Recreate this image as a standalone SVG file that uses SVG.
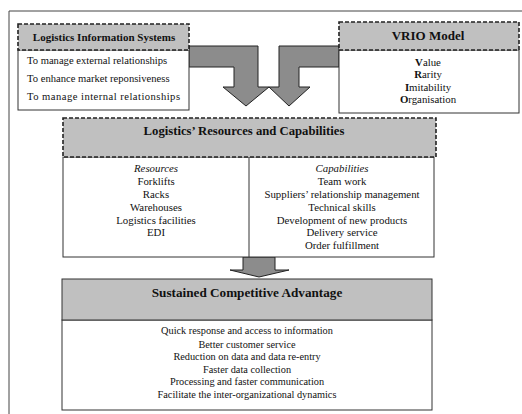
<svg xmlns="http://www.w3.org/2000/svg" width="522" height="414" viewBox="0 0 522 414">
<style>
text{font-family:"Liberation Serif","Times New Roman",serif;fill:#111;}
.h{font-weight:bold;font-size:12.5px;text-anchor:middle;}
.t{font-size:10.8px;}
.s{font-size:10.3px;}
.c{text-anchor:middle;}
.hd{fill:#c0c0c0;stroke:#222;stroke-width:1.6;stroke-dasharray:4 2;}
.hs{fill:#c0c0c0;stroke:#333;stroke-width:1;}
.bd{fill:#fff;stroke:#333;stroke-width:1;}
.ar{fill:#8c8c8c;stroke:#222;stroke-width:1;}
</style>
<rect width="522" height="414" fill="#fff"/>
<path d="M9,414 V11 H522" fill="none" stroke="#444" stroke-width="1"/>
<g id="connectors">
<path class="ar" d="M189,46 H258 V87 H269 L246,106 L223,87 H234 V67 H189 Z"/>
<path class="ar" d="M339,46 H279 V87 H269 L289,106 L310,87 H299 V67 H339 Z"/>
<path class="ar" d="M243,257 H275 V270 H289 L259,277 L230,270 H243 Z"/>
</g>
<g id="lis">
<rect class="bd" x="18" y="50" width="171" height="60"/>
<rect class="hd" x="18" y="24" width="171" height="26"/>
<text class="h" x="104" y="41" style="font-size:11px">Logistics Information Systems</text>
<text class="t" x="27" y="64" style="font-size:10.6px">To manage external relationships</text>
<text class="t" x="27" y="82" style="font-size:10.6px">To enhance market reponsiveness</text>
<text class="t" x="27" y="100" style="font-size:10.6px" textLength="153" lengthAdjust="spacing">To manage internal relationships</text>
</g>
<g id="vrio">
<rect class="bd" x="339" y="50" width="180" height="63"/>
<rect class="hd" x="339" y="22" width="180" height="28"/>
<text class="h" x="428" y="40" style="font-size:13px">VRIO Model</text>
<text class="t c" x="428" y="66"><tspan font-weight="bold">V</tspan>alue</text>
<text class="t c" x="428" y="78"><tspan font-weight="bold">R</tspan>arity</text>
<text class="t c" x="428" y="91"><tspan font-weight="bold">I</tspan>mitability</text>
<text class="t c" x="428" y="103"><tspan font-weight="bold">O</tspan>rganisation</text>
</g>
<g id="lrc">
<rect class="bd" x="63" y="157" width="371" height="100"/>
<line x1="249" y1="157" x2="249" y2="257" stroke="#333" stroke-width="1"/>
<rect class="hd" x="63" y="118" width="373" height="39"/>
<text class="h" x="244" y="135" style="font-size:12.7px">Logistics’ Resources and Capabilities</text>
<text class="t c" x="156" y="172" font-style="italic">Resources</text>
<text class="t c" x="156" y="185">Forklifts</text>
<text class="t c" x="156" y="198">Racks</text>
<text class="t c" x="156" y="211">Warehouses</text>
<text class="t c" x="156" y="224">Logistics facilities</text>
<text class="t c" x="156" y="236">EDI</text>
<text class="t c" x="342" y="172" font-style="italic">Capabilities</text>
<text class="t c" x="342" y="185">Team work</text>
<text class="t c" x="342" y="198">Suppliers’ relationship management</text>
<text class="t c" x="342" y="211">Technical skills</text>
<text class="t c" x="342" y="224">Development of new products</text>
<text class="t c" x="342" y="236">Delivery service</text>
<text class="t c" x="342" y="249">Order fulfillment</text>
</g>
<g id="sca">
<rect class="bd" x="62" y="320" width="370" height="90"/>
<rect class="hs" x="62" y="279" width="370" height="41"/>
<text class="h" x="247" y="297" style="font-size:13.2px">Sustained Competitive Advantage</text>
<text class="s c" x="247" y="334">Quick response and access to information</text>
<text class="s c" x="247" y="348">Better customer service</text>
<text class="s c" x="247" y="360">Reduction on data and data re-entry</text>
<text class="s c" x="247" y="373">Faster data collection</text>
<text class="s c" x="247" y="385">Processing and faster communication</text>
<text class="s c" x="247" y="398">Facilitate the inter-organizational dynamics</text>
</g>
</svg>
